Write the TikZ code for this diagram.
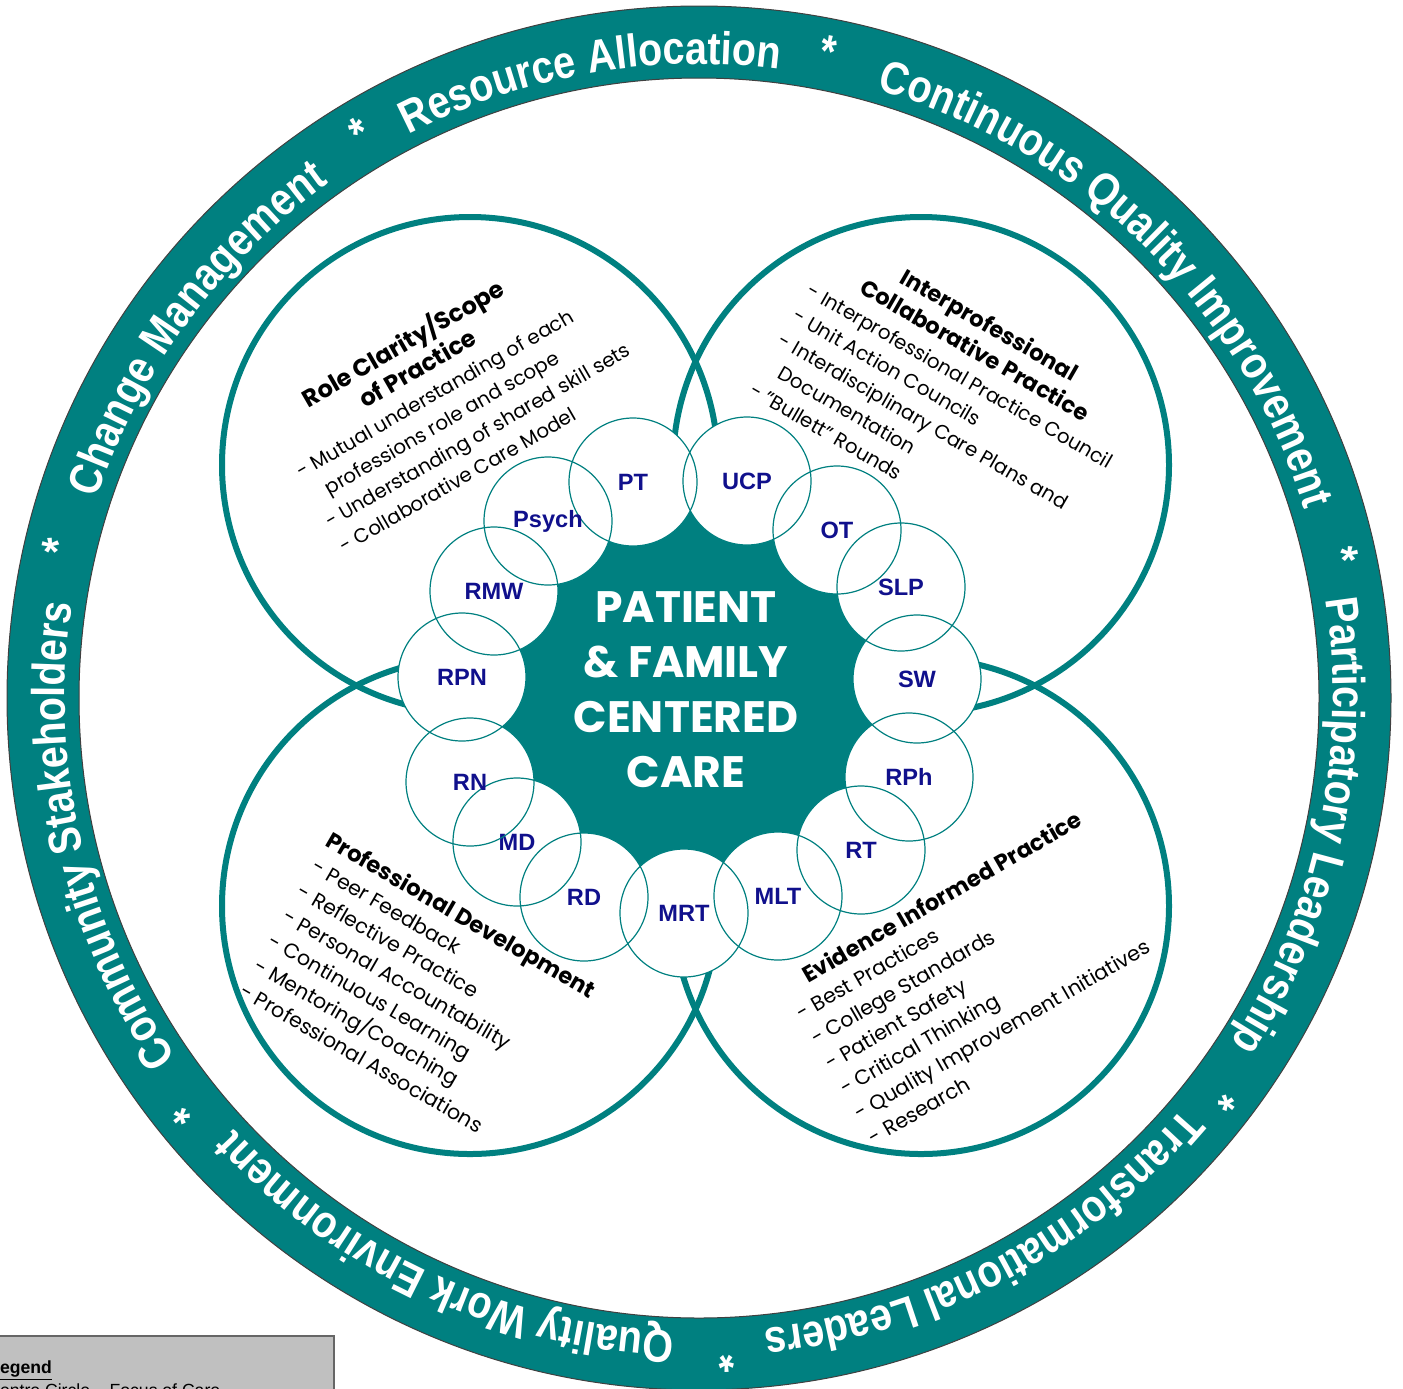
\documentclass[tikz,border=0pt]{standalone}
\usepackage{fontspec}
\setmainfont{Poppins}
\newfontfamily\arialfont{Liberation Sans}
\newfontfamily\ringfont{Liberation Sans}[FakeStretch=0.86]
\usetikzlibrary{decorations.text}

\definecolor{tealring}{RGB}{0,128,128}
\definecolor{navylab}{RGB}{16,16,140}
\definecolor{legendgray}{RGB}{192,192,192}

\newcommand\ringsize{\ringfont\bfseries\fontsize{23}{27}\selectfont}
\newcommand\blocktitle[1][11.3]{\bfseries\fontsize{#1}{14.4}\selectfont}

\begin{document}
\begin{tikzpicture}[x=0.5pt, y=0.5pt,
    bigcirc/.style={draw=tealring, line width=3pt},
    prof/.style={shape=circle, draw=tealring, line width=0.6pt, minimum size=64pt, inner sep=0pt,
        text=navylab, font=\arialfont\bfseries\fontsize{11.8}{14}\selectfont},
    ringtext/.style={decorate, decoration={text along path, text color=white, text align=center,
        text={|\ringsize|#1}}},
    ringstar/.style={anchor=base, inner sep=0pt, text=white, font=\ringsize},
    block/.style={inner sep=0pt, font=\fontsize{10.3}{14.4}\selectfont},
    smallblock/.style={inner sep=0pt, font=\fontsize{9.9}{14.4}\selectfont},
    centre text/.style={align=center, text=white, font=\bfseries\fontsize{22}{27.5}\selectfont}]

    \useasboundingbox (0,0) rectangle (1403,-1388);

    % outer ring
    \begin{scope}[shift={(699,-698)}]
        \fill[tealring, even odd rule] (0,0) circle (692) (0,0) circle (620);
        \draw[black!75, line width=0.5pt] (0,0) circle (692) (0,0) circle (620);

        \path[ringtext={Community Stakeholders}] (233:634) arc[start angle=233, end angle=153, radius=634];
        \path[ringtext={Change Management}] (183.7:634) arc[start angle=183.7, end angle=103.7, radius=634];
        \path[ringtext={Resource Allocation}] (140:634) arc[start angle=140, end angle=60, radius=634];
        \path[ringtext={Continuous Quality Improvement}] (85.5:634) arc[start angle=85.5, end angle=5.5, radius=634];
        \path[ringtext={Participatory Leadership}] (28:634) arc[start angle=28, end angle=-52, radius=634];
        \path[ringtext={Transformational Leaders}] (-22.2:634) arc[start angle=-22.2, end angle=-102.2, radius=634];
        \path[ringtext={Quality Work Environment}] (-74.7:634) arc[start angle=-74.7, end angle=-154.7, radius=634];

        \foreach \a [count=\i] in {166.8,121,78.7,12.5,-37.5,-87.6,-141}
            \node[ringstar, rotate=\a-90] (star\i) at (\a:643) {*};
    \end{scope}

    % four domains
    \draw[bigcirc] (470,-465) circle (248);
    \draw[bigcirc] (921,-465) circle (248);
    \draw[bigcirc] (470,-906) circle (248);
    \draw[bigcirc] (921,-906) circle (248);

    % disciplines round the centre
    \fill[tealring] (689,-700) circle (215);
    \foreach \x/\y in {633/482, 747/481, 837/530, 901/587, 917/679, 909/777, 861/850, 778/896,
            684/913, 584/897, 517/842, 470/782, 462/677, 494/591, 548/521}
        \fill[white] (\x,-\y) circle (64);
    \foreach \x/\y/\n/\t in {633/482/pt/PT, 747/481/ucp/UCP, 837/530/ot/OT, 901/587/slp/SLP,
            917/679/sw/SW, 909/777/rph/RPh, 861/850/rt/RT, 778/896/mlt/MLT, 684/913/mrt/MRT,
            584/897/rd/RD, 517/842/md/MD, 470/782/rn/RN, 462/677/rpn/RPN, 494/591/rmw/RMW,
            548/521/psych/Psych}
        \node[prof] (\n) at (\x,-\y) {\t};

    \node[centre text] (pfcc) at (686,-690) {PATIENT\\\& FAMILY\\CENTERED\\CARE};

    \node[smallblock, rotate=30] (roleclarity) at (456,-398) {\begin{tabular}{@{}l@{}}
        \multicolumn{1}{@{}c@{}}{\blocktitle[12] Role Clarity/Scope\hspace*{21pt}}\\
        \multicolumn{1}{@{}c@{}}{\blocktitle[12] of Practice\hspace*{21pt}}\\
        - Mutual understanding of each\\
        \hphantom{- }professions role and scope\\
        - Understanding of shared skill sets\\
        - Collaborative Care Model
    \end{tabular}};

    \node[smallblock, rotate=-30] (collab) at (945,-402) {\begin{tabular}{@{}l@{}}
        \multicolumn{1}{@{}c@{}}{\blocktitle Interprofessional}\\
        \multicolumn{1}{@{}c@{}}{\blocktitle Collaborative Practice}\\
        - Interprofessional Practice Council\\
        - Unit Action Councils\\
        - Interdisciplinary Care Plans and\\
        \hphantom{- }Documentation\\
        - "Bullett" Rounds
    \end{tabular}};

    \node[block, rotate=-30] (profdev) at (427,-998) {\begin{tabular}{@{}l@{}}
        \multicolumn{1}{@{}c@{}}{\blocktitle Professional Development\hspace*{12pt}}\\
        - Peer Feedback\\
        - Reflective Practice\\
        - Personal Accountability\\
        - Continuous Learning\\
        - Mentoring/Coaching\\
        - Professional Associations
    \end{tabular}};

    \node[block, rotate=30] (evidence) at (976,-980) {\begin{tabular}{@{}l@{}}
        \multicolumn{1}{@{}c@{}}{\hspace*{12pt}\blocktitle Evidence Informed Practice}\\
        - Best Practices\\
        - College Standards\\
        - Patient Safety\\
        - Critical Thinking\\
        - Quality Improvement Initiatives\\
        - Research
    \end{tabular}};

    % legend, cut by the page edge
    \draw[fill=legendgray, draw=black!60, line width=0.6pt] (-20,-1336) rectangle (334,-1420);
    \node[anchor=base west, inner sep=0pt, font=\arialfont\bfseries\fontsize{8.8}{10}\selectfont]
        (legend) at (-11,-1373) {\underline{Legend}};
    \node[anchor=base west, inner sep=0pt, font=\arialfont\fontsize{8.8}{10}\selectfont]
        (legline) at (-13,-1396) {Centre Circle – Focus of Care};
\end{tikzpicture}
\end{document}
